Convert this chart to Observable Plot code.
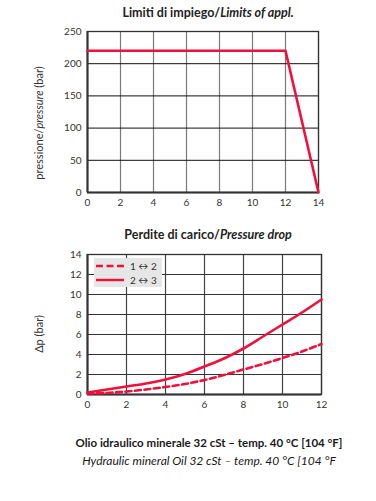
<!DOCTYPE html>
<html><head><meta charset="utf-8">
<script src="https://cdn.jsdelivr.net/npm/d3@7"></script>
<script src="https://cdn.jsdelivr.net/npm/@observablehq/plot@0.6"></script>
<style>
body{margin:0;background:#fff;font-family:Lato,"Open Sans",sans-serif;color:#222;}
#wrap{position:relative;width:376px;height:501px;overflow:hidden;}
.abs{position:absolute;}
.title{left:0;width:416px;text-align:center;font-weight:bold;font-size:12.5px;color:#222;}
.ylab{transform:translate(-50%,-50%) rotate(-90deg);white-space:nowrap;font-size:11px;color:#333;}
.cap{left:0;width:418px;text-align:center;font-size:11.5px;color:#1a1a1a;}
#legend{left:94px;top:258px;width:68px;height:29px;background:#e6e6e6;font-size:10px;color:#333;}
#legend .row{position:absolute;left:0;height:12px;display:flex;align-items:center;}
#legend svg{display:block;margin-left:2px;}
#legend span{margin-left:6px;}
</style></head>
<body><div id="wrap"></div>
<script>
// Top chart: limits of application
const limitFlow = [0, 12, 14];
const limitPressure = [220, 220, 0];
const limitXTicks = [0, 2, 4, 6, 8, 10, 12, 14];
const limitYTicks = [0, 50, 100, 150, 200, 250];

// Bottom chart: pressure drop
const dropFlow = [0, 1, 2, 3, 4, 5, 6, 7, 8, 9, 10, 11, 12];
const drop12 = [0.1, 0.15, 0.3, 0.5, 0.75, 1.05, 1.45, 1.95, 2.5, 3.05, 3.65, 4.3, 5.05];
const drop23 = [0.2, 0.5, 0.8, 1.1, 1.5, 2.05, 2.8, 3.6, 4.6, 5.8, 7.0, 8.2, 9.5];
const dropXTicks = [0, 2, 4, 6, 8, 10, 12];
const dropYTicks = [0, 2, 4, 6, 8, 10, 12, 14];
const seriesNames = ["1 \u2194 2", "2 \u2194 3"];

const RED = "#f0103a";
const wrap = document.getElementById("wrap");

function el(html, cls, style) {
  const d = document.createElement("div");
  d.className = "abs " + cls;
  d.innerHTML = html;
  Object.assign(d.style, style);
  wrap.appendChild(d);
  return d;
}

const limits = limitFlow.map((f, i) => ({f, p: limitPressure[i]}));
const chart1 = Plot.plot({
  width: 376, height: 190,
  marginLeft: 87, marginRight: 58, marginTop: 9, marginBottom: 20,
  style: {fontFamily: "Lato, sans-serif", fontSize: "10px", color: "#333", background: "transparent"},
  x: {domain: [0, 14], ticks: limitXTicks, tickSize: 0, tickPadding: 6, label: null},
  y: {domain: [0, 250], ticks: limitYTicks, tickSize: 0, tickPadding: 6, label: null},
  marks: [
    Plot.gridX(limitXTicks, {stroke: "#7a7a7a", strokeOpacity: 1, strokeWidth: 1.2}),
    Plot.gridY(limitYTicks, {stroke: "#111", strokeOpacity: 1, strokeWidth: 1}),
    Plot.frame({stroke: "#333", strokeWidth: 1.3}),
    Plot.ruleX([0], {stroke: "#333", strokeWidth: 2}),
    Plot.ruleY([0], {stroke: "#333", strokeWidth: 2}),
    Plot.line(limits, {x: "f", y: "p", stroke: RED, strokeWidth: 2.6}),
    Plot.axisX({ticks: limitXTicks, tickSize: 0, tickPadding: 6}),
    Plot.axisY({ticks: limitYTicks, tickSize: 0, tickPadding: 6})
  ]
});
chart1.style.position = "absolute";
chart1.style.left = "0px";
chart1.style.top = "22px";
wrap.appendChild(chart1);

const drops = [];
dropFlow.forEach((f, i) => {
  drops.push({f, v: drop12[i], s: seriesNames[0]});
});
dropFlow.forEach((f, i) => {
  drops.push({f, v: drop23[i], s: seriesNames[1]});
});
const chart2 = Plot.plot({
  width: 376, height: 170,
  marginLeft: 87, marginRight: 55, marginTop: 10, marginBottom: 20,
  style: {fontFamily: "Lato, sans-serif", fontSize: "10px", color: "#333", background: "transparent"},
  x: {domain: [0, 12], ticks: dropXTicks, tickSize: 0, tickPadding: 6, label: null},
  y: {domain: [0, 14], ticks: dropYTicks, tickSize: 0, tickPadding: 6, label: null},
  marks: [
    Plot.gridX(dropXTicks, {stroke: "#444", strokeOpacity: 1, strokeWidth: 1.2}),
    Plot.gridY(dropYTicks, {stroke: "#333", strokeOpacity: 1, strokeWidth: 1}),
    Plot.frame({stroke: "#333", strokeWidth: 1.3}),
    Plot.ruleX([0], {stroke: "#333", strokeWidth: 2}),
    Plot.ruleY([0], {stroke: "#333", strokeWidth: 2}),
    Plot.line(drops.filter(d => d.s === seriesNames[0]), {x: "f", y: "v", stroke: RED, strokeWidth: 2.6, strokeDasharray: "6,3.5", curve: "catmull-rom"}),
    Plot.line(drops.filter(d => d.s === seriesNames[1]), {x: "f", y: "v", stroke: RED, strokeWidth: 2.6, curve: "catmull-rom"}),
    Plot.axisX({ticks: dropXTicks, tickSize: 0, tickPadding: 6}),
    Plot.axisY({ticks: dropYTicks, tickSize: 0, tickPadding: 6})
  ]
});
chart2.style.position = "absolute";
chart2.style.left = "0px";
chart2.style.top = "244px";
wrap.appendChild(chart2);

// Titles and labels
el("Limiti di impiego/<i>Limits of appl.</i>", "title", {top: "5px"});
el("pressione/<i>pressure</i> (bar)", "ylab", {left: "38px", top: "123px"});
el("Perdite di carico/<i>Pressure drop</i>", "title", {top: "227px"});
el("\u0394p (bar)", "ylab", {left: "38px", top: "334px"});

// Legend
const lg = el("", "", {});
lg.id = "legend";
lg.innerHTML =
  '<div class="row" style="top:2px"><svg width="28" height="6"><line x1="0" x2="28" y1="3" y2="3" stroke="' + RED + '" stroke-width="2.4" stroke-dasharray="7,3.5"/></svg><span>' + seriesNames[0] + '</span></div>' +
  '<div class="row" style="top:16px"><svg width="28" height="6"><line x1="0" x2="28" y1="3" y2="3" stroke="' + RED + '" stroke-width="2.4"/></svg><span>' + seriesNames[1] + '</span></div>';

// Caption
el("<b>Olio idraulico minerale 32 cSt \u2013 temp. 40 \u00b0C [104 \u00b0F]</b>", "cap", {top: "436px"});
el("<i>Hydraulic mineral Oil 32 cSt \u2013 temp. 40 \u00b0C [104 \u00b0F</i>", "cap", {top: "453px", fontSize: "12px"});
</script></body></html>
